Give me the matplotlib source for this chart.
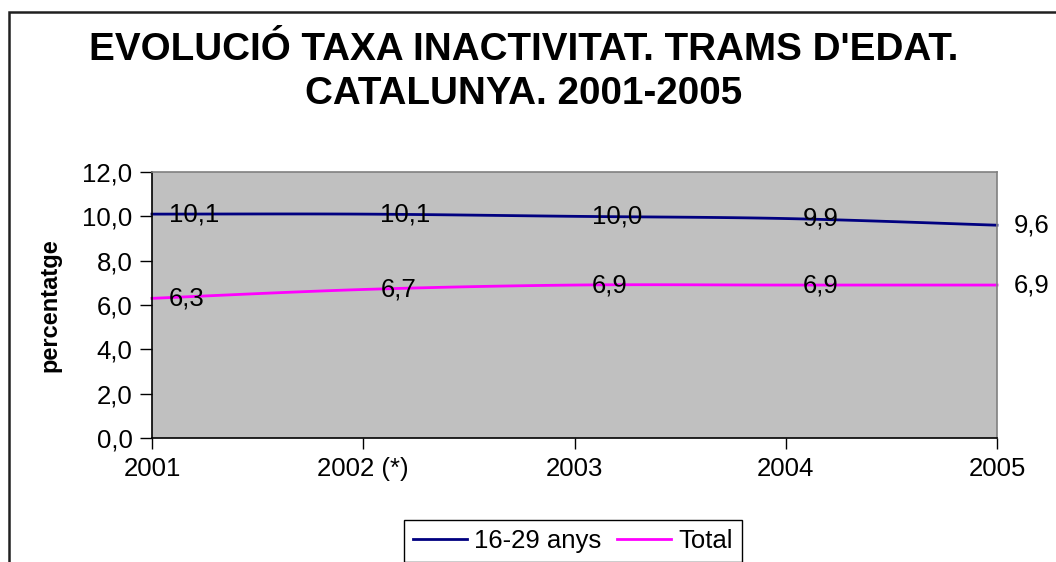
import numpy as np
import matplotlib
matplotlib.use("Agg")
import matplotlib.pyplot as plt
from matplotlib.patches import Rectangle

plt.rcParams['font.family'] = ['Liberation Sans', 'DejaVu Sans']

# dades
anys = ["2001", "2002 (*)", "2003", "2004", "2005"]
joves = [10.1, 10.1, 10.0, 9.9, 9.6]
total = [6.3, 6.7, 6.9, 6.9, 6.9]
yticks = [0, 2, 4, 6, 8, 10, 12]

TITLE = "EVOLUCIÓ TAXA INACTIVITAT. TRAMS D'EDAT.\nCATALUNYA. 2001-2005"
FS = 18.5


def smooth(x, y, n=30):
    """corba suavitzada estil Excel (Bezier amb punts de control Catmull-Rom)"""
    x = np.asarray(x, float)
    y = np.asarray(y, float)
    px = np.concatenate([[x[0]], x, [x[-1]]])
    py = np.concatenate([[y[0]], y, [y[-1]]])
    xs, ys = [], []
    t = np.linspace(0, 1, n)
    for i in range(len(x) - 1):
        p0 = np.array([px[i + 1], py[i + 1]])
        p3 = np.array([px[i + 2], py[i + 2]])
        p1 = p0 + (np.array([px[i + 2], py[i + 2]]) - np.array([px[i], py[i]])) / 6
        p2 = p3 - (np.array([px[i + 3], py[i + 3]]) - np.array([px[i + 1], py[i + 1]])) / 6
        b = ((1 - t) ** 3)[:, None] * p0 + (3 * (1 - t) ** 2 * t)[:, None] * p1 \
            + (3 * (1 - t) * t ** 2)[:, None] * p2 + (t ** 3)[:, None] * p3
        xs.extend(b[:, 0])
        ys.extend(b[:, 1])
    return xs, ys


fig = plt.figure(figsize=(10.56, 5.62), dpi=100)
ax = fig.add_axes([152 / 1056, 1 - 438 / 562, (997 - 152) / 1056, (438 - 172) / 562])
ax.set_facecolor("#C0C0C0")

xi = np.arange(len(anys))
sx, sy = smooth(xi, joves)
ax.plot(sx, sy, color="#000080", lw=2, label="16-29 anys", clip_on=False)
sx, sy = smooth(xi, total)
ax.plot(sx, sy, color="#FF00FF", lw=2, label="Total", clip_on=False)

for serie in (joves, total):
    for i, v in enumerate(serie):
        ax.annotate(f"{v:.1f}".replace(".", ","), (i, v), xytext=(17, 0),
                    textcoords="offset pixels", ha="left", va="center",
                    fontsize=FS, annotation_clip=False)

ax.set_xlim(0, len(anys) - 1)
ax.set_ylim(0, 12)
ax.set_xticks(xi)
ax.set_xticklabels(anys, fontsize=FS)
ax.set_yticks(yticks)
ax.set_yticklabels([f"{v:.1f}".replace(".", ",") for v in yticks], fontsize=FS)
ax.tick_params(axis="x", direction="out", length=8, width=1, pad=6)
ax.tick_params(axis="y", direction="out", length=9, width=1, pad=5)

for s in ("left", "bottom"):
    ax.spines[s].set_color("black")
    ax.spines[s].set_linewidth(1.2)
for s in ("top", "right"):
    ax.spines[s].set_color("#808080")
    ax.spines[s].set_linewidth(1.2)

ax.set_ylabel("percentatge", fontsize=17, fontweight="bold", labelpad=15)
fig.text(0.4957, 1 - 72 / 562, TITLE, ha="center", va="center", fontsize=27.8,
         fontweight="bold", linespacing=1.3)

ax.legend(loc="center", bbox_to_anchor=(573 / 1056, 1 - 541 / 562),
          bbox_transform=fig.transFigure, ncol=2, fontsize=FS, frameon=True,
          fancybox=False, edgecolor="black", framealpha=1, handlelength=2.1,
          columnspacing=0.6, handletextpad=0.3, borderpad=0.35, borderaxespad=0)
ax.get_legend().get_frame().set_linewidth(1)

# marc exterior del gràfic (retallat per la imatge)
fig.patches.append(Rectangle((9 / 1056, -0.1), 1.2, 1.1 - 12 / 562,
                             transform=fig.transFigure, fill=False,
                             edgecolor="#202020", lw=1.8, clip_on=False))

fig.savefig("out.png", dpi=100)
